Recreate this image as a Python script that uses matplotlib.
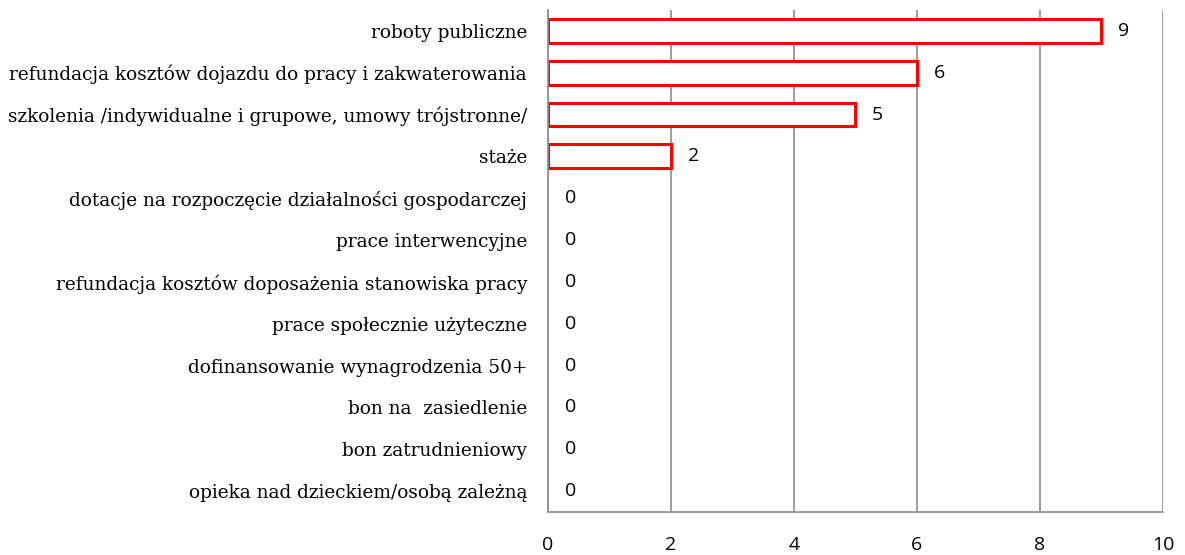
import matplotlib.pyplot as plt

categories = [
    "roboty publiczne",
    "refundacja kosztów dojazdu do pracy i zakwaterowania",
    "szkolenia /indywidualne i grupowe, umowy trójstronne/",
    "staże",
    "dotacje na rozpoczęcie działalności gospodarczej",
    "prace interwencyjne",
    "refundacja kosztów doposażenia stanowiska pracy",
    "prace społecznie użyteczne",
    "dofinansowanie wynagrodzenia 50+",
    "bon na  zasiedlenie",
    "bon zatrudnieniowy",
    "opieka nad dzieckiem/osobą zależną",
]
values = [9, 6, 5, 2, 0, 0, 0, 0, 0, 0, 0, 0]
xticks = [0, 2, 4, 6, 8, 10]

fig = plt.figure(figsize=(11.85, 5.55), dpi=100)
ax = fig.add_axes([0.4624, 0.0775, 0.5190, 0.9045])

pos = list(range(len(categories)))
# zero-length bars are not visible in the original
widths = [2.2 if v > 0 else 0 for v in values]
ax.barh(pos, values, height=0.57, color="white", edgecolor="#ff0000", linewidth=widths)

for p, v in zip(pos, values):
    ax.text(v + 0.27, p, str(v), va="center", ha="left",
            fontsize=14, family="Open Sans", color="black")

ax.set_xlim(0, 10)
ax.set_ylim(len(categories) - 0.5, -0.5)
ax.set_xticks(xticks)
ax.set_xticklabels([str(t) for t in xticks], family="Open Sans", fontsize=14)
ax.set_yticks(pos)
ax.set_yticklabels(categories, family="DejaVu Serif", fontsize=13.3)
ax.tick_params(axis="x", length=0, pad=17)
ax.tick_params(axis="y", length=0, pad=15)
ax.grid(axis="x", color="#8c8c8c", linewidth=1.2)
ax.set_axisbelow(True)
for s in ["top", "right"]:
    ax.spines[s].set_visible(False)
for s in ["left", "bottom"]:
    ax.spines[s].set_color("#8c8c8c")
    ax.spines[s].set_linewidth(1.2)

fig.savefig("out.png", dpi=100)
